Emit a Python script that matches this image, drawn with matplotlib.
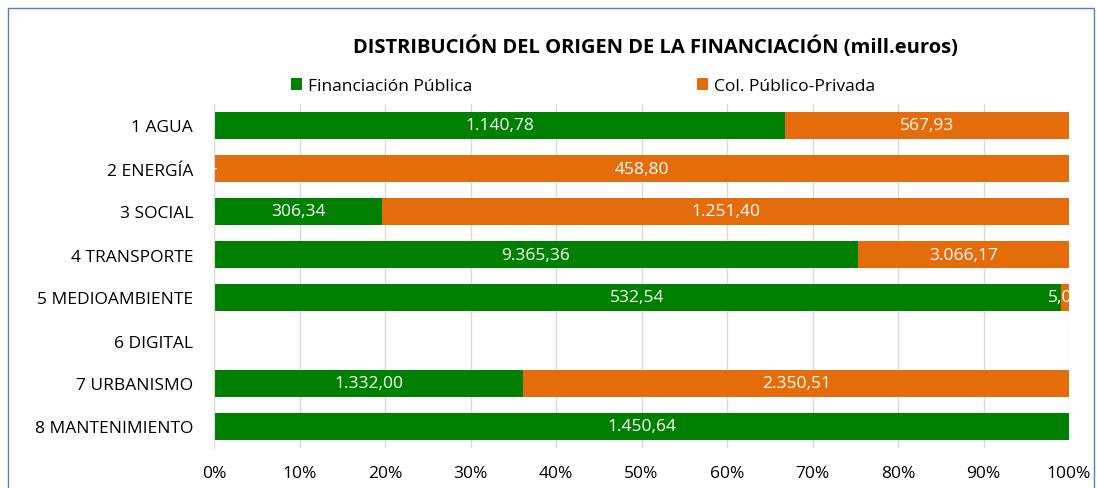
import matplotlib
matplotlib.use("Agg")
import matplotlib.pyplot as plt
from matplotlib.patches import Rectangle
import numpy as np

categories = ["1 AGUA", "2 ENERGÍA", "3 SOCIAL", "4 TRANSPORTE", "5 MEDIOAMBIENTE",
              "6 DIGITAL", "7 URBANISMO", "8 MANTENIMIENTO"]
publica = [1140.78, 0.0, 306.34, 9365.36, 532.54, None, 1332.00, 1450.64]
privada = [567.93, 458.80, 1251.40, 3066.17, 5.00, None, 2350.51, None]
series_names = ["Financiación Pública", "Col. Público-Privada"]
colors = ["#008000", "#E46C0A"]
xticks = np.arange(0, 1.01, 0.1)

def fmt(v):
    if v == 0:
        return "-"
    s = f"{v:,.2f}"
    return s.replace(",", "X").replace(".", ",").replace("X", ".")

plt.rcParams['font.family'] = ['Open Sans', 'DejaVu Sans']
FS = 12.5

W, H = 1097, 489
fig = plt.figure(figsize=(W / 100, H / 100), dpi=100)
ax = fig.add_axes([214 / W, 1 - 449 / H, (1069 - 214) / W, (449 - 105) / H])

pub = np.array([np.nan if v is None else v for v in publica], dtype=float)
pri = np.array([np.nan if v is None else v for v in privada], dtype=float)
tot = np.nansum(np.vstack([pub, pri]), axis=0)
tot[tot == 0] = np.nan
pub_s = np.nan_to_num(pub) / tot
pri_s = np.nan_to_num(pri) / tot
y = np.arange(len(categories))

b1 = ax.barh(y, np.nan_to_num(pub_s), height=0.65, color=colors[0], label=series_names[0], zorder=2)
b2 = ax.barh(y, np.nan_to_num(pri_s), left=np.nan_to_num(pub_s), height=0.65, color=colors[1],
             label=series_names[1], zorder=2)

for i in range(len(categories)):
    if not np.isnan(pub[i]) and not np.isnan(tot[i]):
        ax.text(pub_s[i] / 2, y[i], fmt(pub[i]), ha="center", va="center", color="white",
                fontsize=FS, clip_on=True, zorder=3)
    if not np.isnan(pri[i]) and not np.isnan(tot[i]):
        ax.text(pub_s[i] + pri_s[i] / 2, y[i], fmt(pri[i]), ha="center", va="center", color="white",
                fontsize=FS, clip_on=True, zorder=3)

ax.set_xlim(0, 1)
ax.set_ylim(len(categories) - 0.5, -0.5)
ax.set_yticks(y)
ax.set_yticklabels(categories, fontsize=FS, color="#000000")
ax.set_xticks(xticks)
ax.set_xticklabels([f"{int(round(t * 100))}%" for t in xticks], fontsize=FS)
ax.tick_params(axis="both", length=0)
ax.tick_params(axis="y", pad=15)
ax.tick_params(axis="x", pad=12)
ax.xaxis.grid(True, color="#D9D9D9", linewidth=1, zorder=0)
ax.set_axisbelow(True)
for s in ["top", "right", "bottom"]:
    ax.spines[s].set_visible(False)
ax.spines["left"].set_color("#D9D9D9")

fig.text(655 / W, 1 - 47 / H, "DISTRIBUCIÓN DEL ORIGEN DE LA FINANCIACIÓN (mill.euros)",
         ha="center", va="center", fontsize=14.5, fontweight="bold")

fig.legend(handles=[b1, b2], labels=series_names, loc="center",
           bbox_to_anchor=(583 / W, 1 - 87 / H), ncol=2, frameon=False, fontsize=FS,
           handlelength=0.65, handleheight=0.65, handletextpad=0.35, columnspacing=12.9)

fig.add_artist(Rectangle((8 / W, -0.1), (1094 - 8) / W, 1 - 9 / H + 0.1, transform=fig.transFigure,
                         fill=False, edgecolor="#4F81BD", linewidth=1))

fig.savefig("out.png", dpi=100)
